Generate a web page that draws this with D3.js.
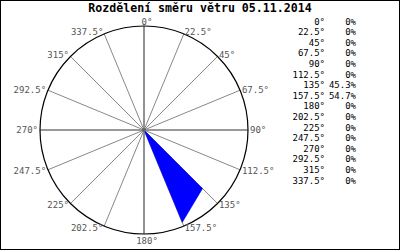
<!DOCTYPE html>
<html><head><meta charset="utf-8">
<script src="https://cdn.jsdelivr.net/npm/d3@7"></script>
<style>body{margin:0;background:#fff}svg{display:block}</style>
</head><body>
<svg id="c" width="400" height="250"></svg>
<script>
const title = "Rozdělení směru větru 05.11.2014";
const directions = [0, 22.5, 45, 67.5, 90, 112.5, 135, 157.5, 180, 202.5, 225, 247.5, 270, 292.5, 315, 337.5];
const dirLabels = ["0°","22.5°","45°","67.5°","90°","112.5°","135°","157.5°","180°","202.5°","225°","247.5°","270°","292.5°","315°","337.5°"];
const percents = [0, 0, 0, 0, 0, 0, 45.3, 54.7, 0, 0, 0, 0, 0, 0, 0, 0];
const pctLabels = ["0%","0%","0%","0%","0%","0%","45.3%","54.7%","0%","0%","0%","0%","0%","0%","0%","0%"];

const svg = d3.select("#c");
const cx = 144, cy = 130, R = 104;
const mono = "'DejaVu Sans Mono', 'Liberation Mono', monospace";

svg.append("rect").attr("x",0.5).attr("y",0.5).attr("width",399).attr("height",249)
  .attr("fill","#fff").attr("stroke","#000");

svg.append("text").attr("x",200).attr("y",12).attr("text-anchor","middle")
  .attr("font-family",mono).attr("font-weight","bold").attr("font-size","11.6px")
  .attr("fill","#000").text(title);

const ang = d3.scaleLinear().domain([0,360]).range([0, 2*Math.PI]);
const r = d3.scaleLinear().domain([0, d3.max(percents)]).range([0, 100]);
const g = svg.append("g").attr("transform",`translate(${cx},${cy})`);

g.selectAll("line.spoke").data(directions).join("line")
  .attr("x1",0).attr("y1",0)
  .attr("x2",d=>R*Math.sin(ang(d))).attr("y2",d=>-R*Math.cos(ang(d)))
  .attr("stroke",d=> d%90===0 ? "#777" : "#888")
  .attr("stroke-width",d=> d%90===0 ? 1.6 : 1);

g.append("circle").attr("r",R).attr("fill","none").attr("stroke","#000").attr("stroke-width",1.2);

const line = d3.lineRadial().angle((d,i)=>ang(directions[i])).radius(d=>r(d)).curve(d3.curveLinearClosed);
g.append("path").attr("d",line(percents)).attr("fill","#0000ff").attr("stroke","#0000ff").attr("stroke-width",0.5);

g.append("circle").attr("r",2).attr("fill","#666");

g.selectAll("text.lab").data(directions).join("text")
  .attr("font-family",mono).attr("font-size","9px").attr("fill","#555")
  .attr("x",d=>{const s=Math.sin(ang(d)); return (R+2)*s + (Math.abs(s)<0.01?3:0);})
  .attr("y",d=>{const c=Math.cos(ang(d)); return c>0.95 ? -(R+1) : -(R+2)*c;})
  .attr("text-anchor",d=>{const s=Math.sin(ang(d)); return Math.abs(s)<0.01?"middle":(s>0?"start":"end");})
  .attr("dy",d=>{const c=Math.cos(ang(d)); return c>0.95? "0em" : (c<-0.95? "0.85em" : "0.35em");})
  .text((d,i)=>dirLabels[i]);

const leg = svg.append("g").attr("font-family",mono).attr("font-size","9px").attr("fill","#000");
const rowY = d3.scaleLinear().domain([0,15]).range([21.5, 180.5]);
leg.selectAll("text.d").data(dirLabels).join("text")
  .attr("x",325).attr("y",(d,i)=>rowY(i)).attr("dy","0.35em").attr("text-anchor","end").text(d=>d);
leg.selectAll("text.p").data(pctLabels).join("text")
  .attr("x",356).attr("y",(d,i)=>rowY(i)).attr("dy","0.35em").attr("text-anchor","end").text(d=>d);
</script>
</body></html>
